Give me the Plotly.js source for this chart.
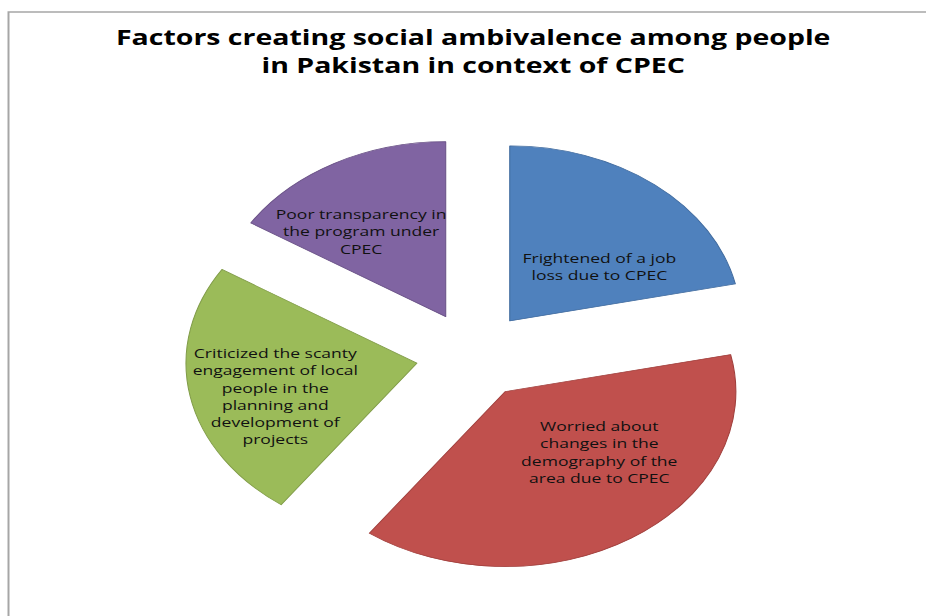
<!DOCTYPE html>
<html>
<head>
<meta charset="utf-8">
<script src="https://cdn.plot.ly/plotly-3.0.1.min.js"></script>
<style>
  html, body { margin: 0; padding: 0; background: #ffffff; overflow: hidden; }
  #wrap { width: 926px; height: 616px; overflow: hidden; position: relative; }
  #chart { width: 702px; height: 616px; transform: scaleX(1.3191); transform-origin: 0 0; }
</style>
</head>
<body>
<div id="wrap"><div id="chart"></div></div>
<script>
// Data (approximate shares)
const categories = [
  "Frightened of a job<br>loss due to CPEC",
  "Worried about<br>changes in the<br>demography of the<br>area due to CPEC",
  "Criticized the scanty<br>engagement of local<br>people in the<br>planning and<br>development of<br>projects",
  "Poor transparency in<br>the program under<br>CPEC"
];
const shares = [21.6, 38.4, 24.0, 16.0];
const sliceColors = ["#4F81BD", "#C0504D", "#9BBB59", "#8064A2"];
const edgeColors = ["#3F6A9E", "#A03F3C", "#809C48", "#6A5287"];
const titleText = "Factors creating social ambivalence among people<br>in Pakistan in context of CPEC";

// label placement (page pixels of the 926x616 picture)
const labelX = [600, 600, 275, 361];
const labelY = [266, 452, 396, 231];

const labelFont = { family: "'Open Sans', Lato, sans-serif", size: 13.3, color: "#111111" };

const trace = {
  type: "pie",
  labels: categories,
  values: shares,
  textinfo: "none",
  sort: false,
  direction: "clockwise",
  rotation: 0,
  pull: [0.25, 0.25, 0.25, 0.25],
  marker: { colors: sliceColors, line: { color: edgeColors, width: 0.8 } },
  hoverinfo: "none",
  domain: { x: [0.084, 0.9387], y: [0.0686, 0.7788] },
  showlegend: false
};

const annotations = categories.map((c, i) => ({
  text: c,
  xref: "paper", yref: "paper",
  x: labelX[i] / 926, y: 1 - labelY[i] / 616,
  xanchor: "center", yanchor: "middle",
  align: "center",
  showarrow: false,
  font: labelFont
}));

const layout = {
  width: 702,
  height: 616,
  margin: { l: 0, r: 0, t: 0, b: 0 },
  paper_bgcolor: "#ffffff",
  showlegend: false,
  title: {
    text: titleText,
    font: { family: "'Open Sans', Lato, sans-serif", size: 21.6, color: "#000000", weight: "bold" },
    x: 0.511,
    xanchor: "center",
    xref: "container",
    y: 1 - 45 / 616,
    yanchor: "top",
    yref: "container"
  },
  annotations: annotations,
  shapes: [
    {
      type: "rect", xref: "paper", yref: "paper",
      x0: 8.5 / 926, x1: 1.1, y0: -0.1, y1: 1 - 12 / 616,
      line: { color: "#A6A6A6", width: 1.5 }, fillcolor: "rgba(0,0,0,0)"
    }
  ]
};

Plotly.newPlot("chart", [trace], layout, { staticPlot: true, displayModeBar: false });
</script>
</body>
</html>
